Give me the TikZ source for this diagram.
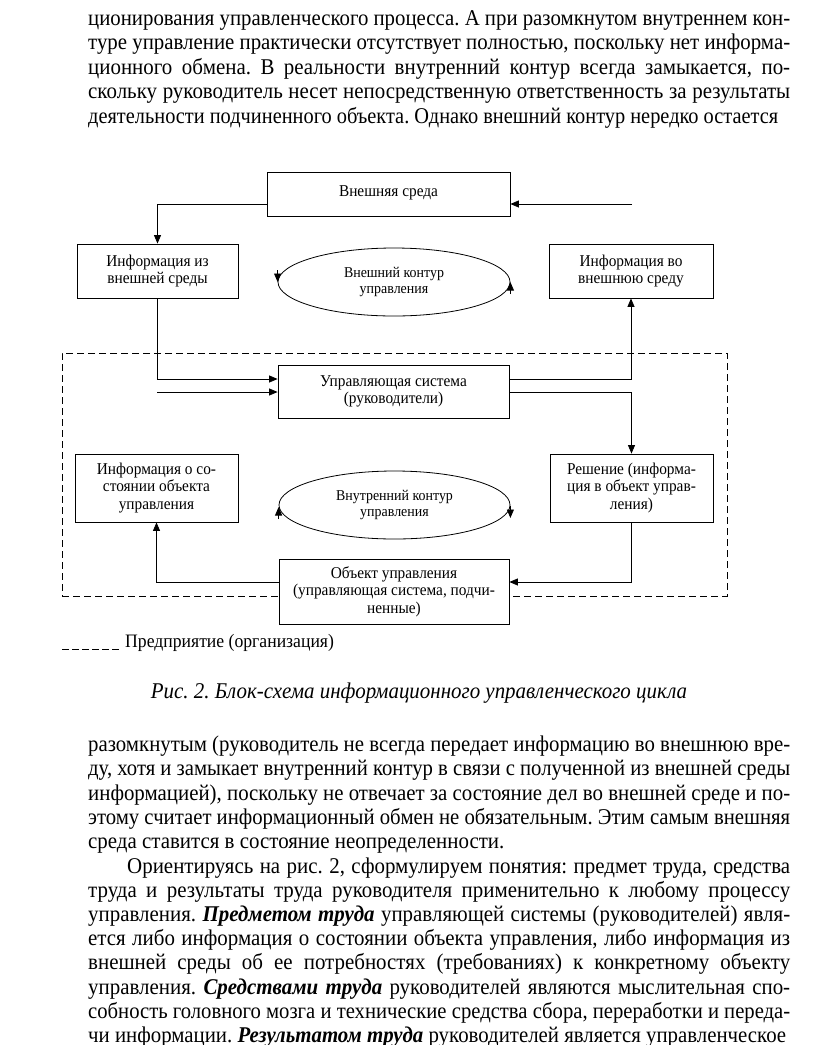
\documentclass[tikz,border=0pt]{standalone}
\usepackage{fontspec}
\usepackage{graphicx}
\setmainfont[FakeStretch=0.93]{Liberation Serif}
\usetikzlibrary{arrows.meta,shapes.geometric}
\newcommand\bodyfont{\fontsize{22.5}{24.3}\selectfont}
\newcommand\boxfont{\fontsize{16.5}{17.5}\selectfont}
\newcommand\ellfont{\fontsize{15}{15.5}\selectfont}
\newsavebox\lnbox
% justified line of given width; squeezed if too long
\newcommand\jl[2]{\sbox\lnbox{#2}\ifdim\wd\lnbox>#1pt\relax\resizebox{#1pt}{\height}{\usebox\lnbox}\else\makebox[#1pt][s]{#2}\fi}
% natural line, squeezed only if too long
\newcommand\nl[2]{\sbox\lnbox{#2}\ifdim\wd\lnbox>#1pt\relax\resizebox{#1pt}{\height}{\usebox\lnbox}\else\usebox\lnbox\fi}
\newcommand\bi[1]{\textbf{\textit{#1}}}
\tikzset{
  txt/.style={anchor=base west, inner sep=0pt, font=\bodyfont},
  blk/.style={draw, fill=white, line width=0.8pt, align=center, inner sep=0pt, font=\boxfont},
  ell/.style={draw, ellipse, line width=0.8pt, align=center, inner sep=0pt, font=\ellfont},
  arr/.style={line width=0.8pt, -{Triangle[length=8.5pt,width=7pt]}},
}
\frenchspacing
\begin{document}
\begin{tikzpicture}[x=1pt,y=-1pt]
\useasboundingbox (0,0) rectangle (816,1045);
% ---- top paragraph
\node[txt] (p1) at (88,25) {\jl{702}{ционирования управленческого процесса. А при разомкнутом внутреннем кон-}};
\node[txt] (p2) at (88,49.5) {\jl{702}{туре управление практически отсутствует полностью, поскольку нет информа-}};
\node[txt] (p3) at (88,74) {\jl{702}{ционного обмена. В реальности внутренний контур всегда замыкается, по-}};
\node[txt] (p4) at (88,98.5) {\jl{702}{скольку руководитель несет непосредственную ответственность за результаты}};
\node[txt] (p5) at (88,123) {\jl{690}{деятельности подчиненного объекта. Однако внешний контур нередко остается}};
% ---- enterprise frame
\node[draw, line width=0.8pt, dash pattern=on 7pt off 4pt, minimum width=665pt, minimum height=243pt, inner sep=0pt] (ent) at (394.5,474.5) {};
% ---- blocks
\node[blk, minimum width=243pt, minimum height=44pt] (vs) at (388.5,194) {\raisebox{5pt}{Внешняя среда}};
\node[blk, minimum width=161pt, minimum height=54pt] (iz) at (157.5,271) {Информация из\\внешней среды};
\node[blk, minimum width=164pt, minimum height=54pt] (vo) at (631,271) {Информация во\\внешнюю среду};
\node[ell, minimum width=232pt, minimum height=68pt] (e1) at (394,282) {Внешний контур\\управления};
\node[blk, minimum width=231pt, minimum height=53pt] (us) at (393.5,391.5) {Управляющая система\\(руководители)};
\node[blk, minimum width=163pt, minimum height=68pt] (is) at (156.5,488) {Информация о со-\\стоянии объекта\\управления};
\node[blk, minimum width=163pt, minimum height=68pt] (re) at (631.5,488) {Решение (информа-\\ция в объект управ-\\ления)};
\node[ell, minimum width=231pt, minimum height=68pt] (e2) at (394.5,505) {Внутренний контур\\управления};
\node[blk, minimum width=230pt, minimum height=65pt] (ob) at (394,591.5) {Объект управления\\(управляющая система, подчи-\\ненные)};
% ---- connectors
\coordinate (vsin) at (632,204);
\coordinate (usin) at (157,392);
\draw[arr] ([yshift=-10pt]vs.west) -| (iz.north);
\draw[arr] (vsin) -- (vsin -| vs.east);
\draw[arr] (iz.south) |- ([yshift=12.5pt]us.west);
\draw[arr] (usin) -- (usin -| us.west);
\draw[arr] ([yshift=12.5pt]us.east) -| (vo.south);
\draw[arr] ([yshift=-0.5pt]us.east) -| (re.north);
\draw[arr] (re.south) |- ([yshift=9.5pt]ob.east);
\draw[arr] ([yshift=9.5pt]ob.west) -| (is.south);
% ---- contour arrows
\draw[arr] ([yshift=12pt]e1.west) -- ([yshift=0pt]e1.west);
\draw[arr] ([yshift=-12pt]e1.east) -- ([yshift=0pt]e1.east);
\draw[arr] ([yshift=-14pt]e2.west) -- ([yshift=-2pt]e2.west);
\draw[arr] ([yshift=-1pt]e2.east) -- ([yshift=-13pt]e2.east);
% ---- legend
\coordinate (lg1) at (62,649);
\coordinate (lg2) at (121,649);
\draw[line width=0.8pt, dash pattern=on 7pt off 3pt] (lg1) -- (lg2);
\node[anchor=base west, inner sep=0pt, font=\fontsize{19}{20}\selectfont] (lgt) at (125,647) {Предприятие (организация)};
% ---- caption
\node[anchor=base, inner sep=0pt, font=\bodyfont\itshape] (cap) at (419,698) {Рис. 2. Блок-схема информационного управленческого цикла};
% ---- lower text
\node[txt] (q1) at (88,751) {\jl{702}{разомкнутым (руководитель не всегда передает информацию во внешнюю вре-}};
\node[txt] (q2) at (88,775.5) {\jl{702}{ду, хотя и замыкает внутренний контур в связи с полученной из внешней среды}};
\node[txt] (q3) at (88,800) {\jl{702}{информацией), поскольку не отвечает за состояние дел во внешней среде и по-}};
\node[txt] (q4) at (88,824) {\jl{702}{этому считает информационный обмен не обязательным. Этим самым внешняя}};
\node[txt] (q5) at (88,848) {\nl{702}{среда ставится в состояние неопределенности.}};
\node[txt] (q6) at (127,873) {\jl{663}{Ориентируясь на рис. 2, сформулируем понятия: предмет труда, средства}};
\node[txt] (q7) at (88,897) {\jl{702}{труда и результаты труда руководителя применительно к любому процессу}};
\node[txt] (q8) at (88,921) {\jl{702}{управления. \bi{Предметом труда} управляющей системы (руководителей) явля-}};
\node[txt] (q9) at (88,945) {\jl{702}{ется либо информация о состоянии объекта управления, либо информация из}};
\node[txt] (q10) at (88,969.5) {\jl{702}{внешней среды об ее потребностях (требованиях) к конкретному объекту}};
\node[txt] (q11) at (88,994) {\jl{702}{управления. \bi{Средствами труда} руководителей являются мыслительная спо-}};
\node[txt] (q12) at (88,1018) {\jl{702}{собность головного мозга и технические средства сбора, переработки и переда-}};
\node[txt] (q13) at (88,1042) {\jl{698}{чи информации. \bi{Результатом труда} руководителей является управленческое}};
\end{tikzpicture}
\end{document}
